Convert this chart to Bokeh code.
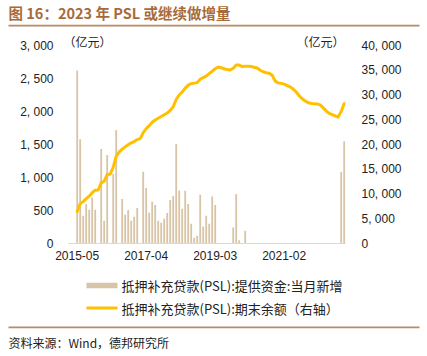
from bokeh.plotting import figure
from bokeh.layouts import column
from bokeh.models import (Range1d, LinearAxis, FixedTicker, Label, BoxAnnotation,
                          ColumnDataSource)
from bokeh.embed import file_html
from bokeh.resources import INLINE

# ---------------- data (亿元) ----------------
months = [f"{2015 + (4 + k) // 12}-{(4 + k) % 12 + 1:02d}" for k in range(90)]  # 2015-05 .. 2022-10

new_psl = [
    2620, 1578, 420, 597, 512, 698, 512, 0, 1432, 344,
    1341, 0, 1053, 1720, 0, 674, 435, 507, 344, 405,
    537, 0, 1088, 840, 466, 633, 582, 344, 314, 375,
    461, 658, 719, 1508, 804, 526, 799, 597, 299, 86,
    117, 739, 258, 420, 299, 713, 582, 0, 0, 0,
    0, 0, 243, 749, 51, 0, 192, 0, 0, 0,
    0, 0, 0, 0, 0, 0, 0, 0, 0, 0,
    0, 0, 0, 0, 0, 0, 0, 0, 0, 0,
    0, 0, 0, 0, 0, 0, 0, 0, 1083, 1548,
]

psl_balance = [
    6459, 8037, 8457, 9054, 9566, 10264, 10776, 10812, 12240, 12590,
    13930, 14000, 15400, 17600, 18500, 19060, 19530, 19940, 20340, 20600,
    21000, 21200, 22400, 23200, 23800, 24500, 24950, 25300, 25650, 26000,
    26350, 26876, 27600, 29100, 30000, 30600, 31400, 32000, 32300, 32400,
    32500, 33200, 33500, 33795, 34300, 34800, 35300, 35650, 35500, 35300,
    35150, 35050, 35400, 36050, 36050, 35750, 35800, 35800, 35750, 35600,
    35450, 35000, 34700, 34500, 34400, 34000, 32800, 32450, 32350, 32200,
    31900, 31650, 31200, 30600, 29850, 29250, 28800, 28450, 28300, 28250,
    28200, 28000, 27400, 26800, 26300, 26050, 25800, 25550, 26700, 28250,
]

x_tick_labels = ["2015-05", "2017-04", "2019-03", "2021-02"]
left_ticks = [0, 500, 1000, 1500, 2000, 2500, 3000]
left_tick_labels = ["0", "500", "1, 000", "1, 500", "2, 000", "2, 500", "3, 000"]
right_ticks = [0, 5000, 10000, 15000, 20000, 25000, 30000, 35000, 40000]
right_tick_labels = ["0", "5, 000", "10, 000", "15, 000", "20, 000", "25, 000",
                     "30, 000", "35, 000", "40, 000"]

bar_name = "抵押补充贷款(PSL):提供资金:当月新增"
line_name = "抵押补充贷款(PSL):期末余额（右轴）"
title_text = "图 16：2023 年 PSL 或继续做增量"
unit_text = "（亿元）"
source_text = "资料来源：Wind，德邦研究所"

# ---------------- style / layout ----------------
W = 427
TOP_H, MAIN_H, BOT_H = 34, 236, 86          # stacked canvases (total 356)
FL, FR = 68, 345                              # main frame left / right (canvas px)
FB = 243 - TOP_H                              # main frame bottom inside main canvas
TICK_TOP_Y = 45 - TOP_H                       # canvas y where 3,000 / 40,000 sit
LEFT_MAX, RIGHT_MAX = 3000, 40000
PX_PER_MONTH = 3.0
FIRST_BAR_X = 76.7
Y_BOT = TOP_H + MAIN_H                        # canvas y of bottom strip top

BAR = "#d8c4a6"
GOLD = "#ffc000"
BROWN = "#a86a3a"
RULE = "#b98b62"
TXT = "#222222"
CJK = "Noto Sans CJK SC"
LAT = "Liberation Sans"


def strip(height):
    f = figure(width=W, height=height, output_backend="svg", toolbar_location=None,
               x_range=Range1d(0, W), y_range=Range1d(0, height),
               x_axis_type=None, y_axis_type=None, min_border=0)
    f.outline_line_color = None
    f.xgrid.visible = False
    f.ygrid.visible = False
    f.frame_align = False
    return f


def box(fig, h, y0, x1, x2, c1, c2, color):
    # rectangle given in canvas pixels of the whole page
    fig.add_layout(BoxAnnotation(left=x1, right=x2, top=h - (c1 - y0), bottom=h - (c2 - y0),
                                 fill_color=color, fill_alpha=1, line_color=None))


def text(fig, h, y0, x, c, s, size, color=TXT, bold=False):
    fig.add_layout(Label(x=x, y=h - (c - y0), text=s, text_font=CJK, text_font_size=size,
                         text_font_style="bold" if bold else "normal", text_color=color,
                         text_baseline="middle", text_align="left"))


# ---------- top strip: title + rule ----------
top = strip(TOP_H)
text(top, TOP_H, 0, 8, 12, title_text, "14.5px", BROWN, bold=True)
box(top, TOP_H, 0, 8, 419, 24.3, 26, RULE)

# ---------- main chart ----------
xs = list(range(len(months)))
src = ColumnDataSource(dict(x=xs, month=months, new=new_psl, bal=psl_balance))

scale = FB / (FB - TICK_TOP_Y)
x_start = -(FIRST_BAR_X - FL) / PX_PER_MONTH
x_end = x_start + (FR - FL) / PX_PER_MONTH

p = figure(width=W, height=MAIN_H, output_backend="svg", toolbar_location=None,
           x_range=Range1d(x_start, x_end), y_range=Range1d(0, LEFT_MAX * scale),
           min_border_left=FL, min_border_right=W - FR,
           min_border_top=0, min_border_bottom=MAIN_H - FB)
p.frame_align = False
p.extra_y_ranges = {"bal": Range1d(0, RIGHT_MAX * scale)}
p.outline_line_color = None
p.xgrid.visible = False
p.ygrid.visible = False

bars = p.vbar(x="x", top="new", width=0.6, source=src, fill_color=BAR, line_color=None)
line = p.line(x="x", y="bal", source=src, y_range_name="bal",
              line_color=GOLD, line_width=3, line_join="round", line_cap="round")

xt = [months.index(t) for t in x_tick_labels]
p.xaxis.ticker = FixedTicker(ticks=xt)
p.xaxis.major_label_overrides = {i: m for i, m in zip(xt, x_tick_labels)}
p.xaxis.axis_line_color = "#d9d9d9"
p.xaxis.major_tick_line_color = None
p.xaxis.minor_tick_line_color = None
p.xaxis.major_tick_out = 0
p.xaxis.major_tick_in = 0
p.xaxis.major_label_standoff = 7
p.xaxis.major_label_text_font = LAT
p.xaxis.major_label_text_font_size = "12px"
p.xaxis.major_label_text_color = TXT

p.yaxis.ticker = FixedTicker(ticks=left_ticks)
p.yaxis.major_label_overrides = {t: s for t, s in zip(left_ticks, left_tick_labels)}
p.yaxis.axis_line_color = None
p.yaxis.major_tick_line_color = None
p.yaxis.minor_tick_line_color = None
p.yaxis.major_label_standoff = 9
p.yaxis.major_label_text_font = LAT
p.yaxis.major_label_text_font_size = "12px"
p.yaxis.major_label_text_color = TXT

ra = LinearAxis(y_range_name="bal", ticker=FixedTicker(ticks=right_ticks),
                major_label_overrides={t: s for t, s in zip(right_ticks, right_tick_labels)},
                axis_line_color=None, major_tick_line_color=None, minor_tick_line_color=None,
                major_label_standoff=10, major_label_text_font=LAT,
                major_label_text_font_size="12px", major_label_text_color=TXT)
p.add_layout(ra, "right")

# unit labels (screen units relative to frame bottom-left)
for ux in (63, 296):
    p.add_layout(Label(x=ux - FL, y=FB - (41 - TOP_H), x_units="screen", y_units="screen",
                       text=unit_text, text_font=CJK, text_font_size="12px", text_color=TXT,
                       text_baseline="middle", text_align="left"))

# ---------- bottom strip: legend + rule + source ----------
bot = strip(BOT_H)
box(bot, BOT_H, Y_BOT, 86, 117, 282.3, 287.7, BAR)          # bar swatch
text(bot, BOT_H, Y_BOT, 121, 285, bar_name, "13px")
box(bot, BOT_H, Y_BOT, 86, 117, 306, 309, GOLD)             # line swatch
text(bot, BOT_H, Y_BOT, 121, 308, line_name, "13px")
box(bot, BOT_H, Y_BOT, 8, 419, 326, 327.7, RULE)
text(bot, BOT_H, Y_BOT, 8, 342, source_text, "12px")

layout = column(top, p, bot, spacing=0)
open("out.html", "w").write(file_html(layout, INLINE))
